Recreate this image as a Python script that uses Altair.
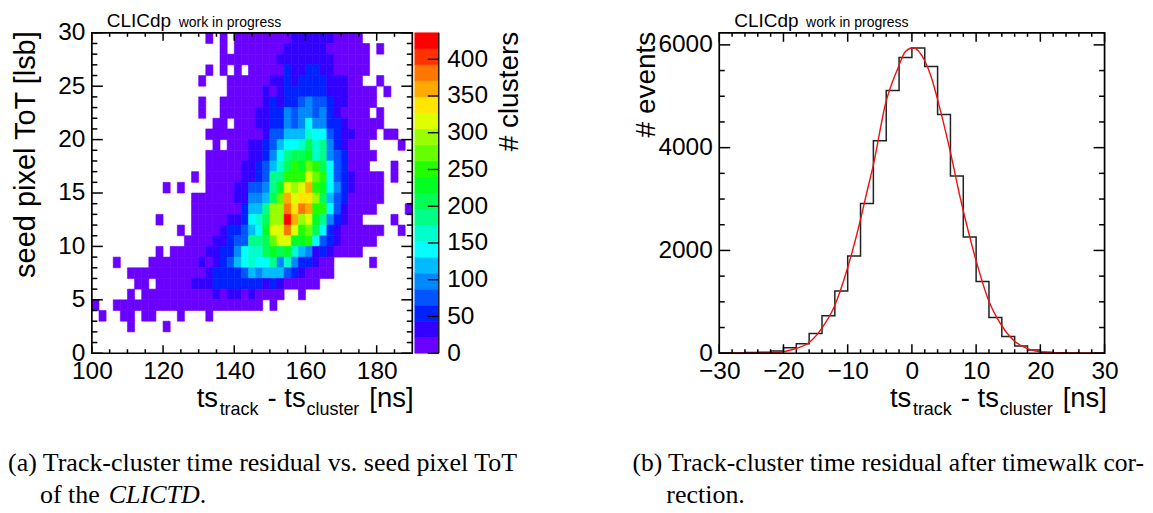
import altair as alt
import pandas as pd

SANS = "Liberation Sans"
SERIF = "Liberation Serif"
PANEL_W_A = 321
PANEL_W_B = 386
PANEL_H = 321
BAR_W = 24

# ---- heat map: occupied spans per row (row = lower edge of the ToT bin, columns are 2 ns bins from 100 ns)
SPANS = {
    29: [(16, 16), (18, 18), (20, 37)],
    28: [(18, 18), (20, 38), (40, 40)],
    27: [(18, 38)],
    26: [(16, 16), (18, 18), (20, 20), (22, 38)],
    25: [(15, 15), (19, 37), (40, 40)],
    24: [(19, 39), (41, 41)],
    23: [(15, 15), (18, 39)],
    22: [(15, 15), (18, 38), (40, 40)],
    21: [(17, 18), (20, 40)],
    20: [(16, 39), (41, 42)],
    19: [(17, 17), (19, 38), (43, 43)],
    18: [(16, 39)],
    17: [(16, 38), (42, 42)],
    16: [(14, 14), (16, 40), (42, 42)],
    15: [(10, 10), (12, 12), (16, 40)],
    14: [(14, 40)],
    13: [(14, 39), (44, 44)],
    12: [(9, 9), (14, 37), (42, 42)],
    11: [(12, 12), (14, 40), (43, 43)],
    10: [(13, 39)],
    9: [(9, 9), (11, 37)],
    8: [(3, 3), (8, 33), (39, 39)],
    7: [(5, 33)],
    6: [(6, 7), (9, 31)],
    5: [(5, 5), (7, 26), (29, 29)],
    4: [(0, 0), (3, 23), (25, 25)],
    3: [(1, 1), (4, 5), (7, 8), (12, 12), (16, 16)],
    2: [(5, 5), (10, 10)],
}
# colour band read for the cells above band 1: row -> (first column, bands)
BANDS = {
    29: (28, [2, 2, 2, 2, 2, 2]),
    28: (27, [2, 2, 2, 2, 2, 2]),
    27: (26, [2, 2, 2, 2, 2, 2, 2, 2]),
    26: (27, [3, 2, 2, 3, 3, 2, 2]),
    25: (25, [2, 2, 3, 2, 3, 3, 3, 3, 2, 2, 2]),
    24: (24, [2, 1, 2, 3, 3, 3, 3, 3, 3, 2, 2, 2]),
    23: (24, [2, 3, 2, 3, 3, 4, 5, 4, 4, 3, 2, 2]),
    22: (23, [2, 2, 3, 3, 5, 4, 5, 5, 4, 5, 3, 2]),
    21: (23, [2, 2, 3, 3, 5, 4, 5, 7, 5, 5, 3, 3, 2]),
    20: (24, [2, 4, 4, 6, 6, 6, 8, 7, 7, 4, 3, 2, 2]),
    19: (22, [2, 2, 3, 4, 6, 7, 7, 8, 10, 8, 9, 5, 3, 2]),
    18: (22, [2, 2, 3, 5, 7, 9, 10, 10, 11, 8, 9, 5, 4, 3]),
    17: (21, [2, 2, 3, 4, 6, 8, 10, 12, 11, 13, 12, 10, 7, 4, 3]),
    16: (21, [2, 2, 3, 4, 9, 9, 12, 12, 12, 15, 13, 12, 7, 4, 3, 2]),
    15: (20, [2, 2, 4, 4, 5, 9, 11, 15, 14, 15, 17, 12, 11, 7, 5, 3, 2]),
    14: (20, [2, 2, 5, 5, 6, 10, 13, 17, 15, 16, 16, 14, 10, 6, 4, 3]),
    13: (21, [3, 6, 6, 9, 14, 14, 18, 16, 18, 17, 12, 12, 7, 4, 2]),
    12: (19, [2, 2, 3, 7, 8, 10, 14, 14, 20, 17, 14, 15, 11, 9, 5, 3, 2]),
    11: (18, [2, 3, 3, 4, 6, 7, 11, 15, 15, 18, 15, 12, 13, 10, 7, 3, 2]),
    10: (17, [2, 2, 3, 4, 4, 9, 9, 10, 13, 15, 15, 11, 11, 12, 7, 4, 3, 2]),
    9: (16, [2, 2, 3, 3, 5, 7, 8, 8, 10, 11, 10, 11, 8, 6, 5, 2, 3, 2]),
    8: (15, [2, 1, 2, 3, 4, 6, 7, 8, 7, 7, 9, 5, 8, 5, 3, 3, 2]),
    7: (16, [2, 3, 3, 3, 3, 4, 6, 5, 6, 6, 6, 4, 3, 2]),
    6: (14, [2, 2, 2, 3, 3, 3, 3, 3, 3, 3, 2, 3, 2]),
    5: (17, [2, 1, 2, 2, 1, 2]),
}
BAND_WIDTH = 21.8
PALETTE = [
    "#6a00ff", "#3300ff", "#0022ff", "#0055ff", "#0088ff", "#00bbff", "#00ffff",
    "#00ffcc", "#00ff88", "#00ff55", "#00ff22", "#22ff00", "#66ff00", "#99ff00",
    "#ddff00", "#ffe600", "#ffaa00", "#ff7700", "#ff3300", "#ff0000",
]

# ---- histogram
HIST_EDGES = list(range(-30, 31, 2))
HIST_COUNTS = [3, 5, 12, 20, 42, 107, 185, 385, 730, 1210, 1890, 2915, 4134, 5113, 5755,
               5937, 5581, 4647, 3447, 2260, 1397, 697, 327, 140, 62, 20, 8, 3, 1, 0]
FIT_X = [-30, -26, -24, -22, -20, -18, -16, -14.1, -12.1, -10.1, -8.2, -7, -6, -4.1, -2.2, -1,
         0.15, 2, 3, 3.95, 5.86, 7.67, 9.9, 11.9, 13.9, 15.9, 17.9, 19.9, 22, 24, 30]
FIT_Y = [0, 1, 2, 8, 29, 93, 210, 475, 905, 1625, 2500, 3142, 3665, 4860, 5540, 5870,
         5945, 5690, 5380, 4958, 3985, 2947, 1845, 1040, 552, 243, 93, 29, 8, 2, 0]

# ---- ticks
A_X_MAJOR = [100, 120, 140, 160, 180]
A_X_MINOR = [v for v in range(105, 190, 5) if v % 20]
A_Y_MAJOR = [0, 5, 10, 15, 20, 25, 30]
A_Y_MINOR = [v for v in range(1, 30) if v % 5]
BAR_MAJOR = [0, 50, 100, 150, 200, 250, 300, 350, 400]
B_X_MAJOR = [-30, -20, -10, 0, 10, 20, 30]
B_X_MINOR = [v for v in range(-28, 30, 2) if v % 10]
B_Y_MAJOR = [0, 2000, 4000, 6000]
B_Y_MINOR = [500, 1000, 1500, 2500, 3000, 3500, 4500, 5000, 5500]

A_X = alt.Scale(domain=[100, 190], nice=False, zero=False)
A_Y = alt.Scale(domain=[0, 30], nice=False, zero=False)
BAR_Y = alt.Scale(domain=[0, 20 * BAND_WIDTH], nice=False, zero=False)
B_X = alt.Scale(domain=[-30, 30], nice=False, zero=False)
B_Y = alt.Scale(domain=[0, 6235], nice=False, zero=False)
COLOR = alt.Scale(type="threshold",
                  domain=[round(BAND_WIDTH * i, 1) for i in range(1, 20)],
                  range=PALETTE)

ONE = alt.Data(values=[{"k": 0}])


def label(text, x, y, size, font=SANS, angle=0, style="normal", align="left", color="black"):
    return alt.Chart(ONE).mark_text(
        font=font, fontSize=size, angle=angle, fontStyle=style, align=align,
        baseline="alphabetic", color=color,
    ).encode(x=alt.value(x), y=alt.value(y), text=alt.value(text))


def axis(values, orient, pad):
    return alt.Axis(values=values, orient=orient, ticks=False, domain=False, grid=False, title=None,
                    labelFont=SANS, labelFontSize=24.5, labelColor="black", labelPadding=pad,
                    format="d", labelOverlap=False, labelFlush=False)


def vticks(values, scale, ax, w, length, right=False, width=1.5):
    start, end = (w, w - length) if right else (0, length)
    return alt.Chart(pd.DataFrame({"v": values})).mark_rule(color="black", strokeWidth=width).encode(
        y=alt.Y("v:Q", scale=scale, axis=ax), x=alt.value(start), x2=alt.value(end))


def hticks(values, scale, ax, h, length, top=False):
    start, end = (0, length) if top else (h, h - length)
    return alt.Chart(pd.DataFrame({"v": values})).mark_rule(color="black", strokeWidth=1.5).encode(
        x=alt.X("v:Q", scale=scale, axis=ax), y=alt.value(start), y2=alt.value(end))


def frame(w, h):
    return alt.Chart(ONE).mark_rect(filled=False, stroke="black", strokeWidth=1.7).encode(
        x=alt.value(0), x2=alt.value(w), y=alt.value(0), y2=alt.value(h))


def ts_title(x0, y0):
    return [
        label("ts", x0, y0, 27.5),
        label("track", x0 + 23, y0 + 8, 18),
        label("- ts", x0 + 71, y0, 27.5),
        label("cluster", x0 + 110, y0 + 8, 18),
        label("[ns]", x0 + 173, y0, 27.5),
    ]


def clic(x0):
    return [label("CLICdp", x0, -6, 19), label("work in progress", x0 + 72, -6, 14)]


A_X_AXIS = axis(A_X_MAJOR, "bottom", 6)
A_Y_AXIS = axis(A_Y_MAJOR, "left", 7)
BAR_AXIS = axis(BAR_MAJOR, "right", 8)
B_X_AXIS = axis(B_X_MAJOR, "bottom", 6)
B_Y_AXIS = axis(B_Y_MAJOR, "left", 7)

# ---- panel (a)
rows = []
for row, spans in SPANS.items():
    first, bands = BANDS.get(row, (0, []))
    for lo, hi in spans:
        for col in range(lo, hi + 1):
            band = bands[col - first] if first <= col < first + len(bands) else 1
            rows.append({"t": 100 + 2 * col, "t2": 102 + 2 * col, "tot": row, "tot2": row + 1,
                         "count": (band - 0.5) * BAND_WIDTH})
heat = alt.Chart(pd.DataFrame(rows)).mark_rect(strokeWidth=0.6).encode(
    x=alt.X("t:Q", scale=A_X, axis=A_X_AXIS),
    x2="t2:Q",
    y=alt.Y("tot:Q", scale=A_Y, axis=A_Y_AXIS),
    y2="tot2:Q",
    color=alt.Color("count:Q", scale=COLOR, legend=None),
    stroke=alt.Stroke("count:Q", scale=COLOR, legend=None),
)
panel_a = alt.layer(
    heat,
    vticks(A_Y_MINOR, A_Y, A_Y_AXIS, PANEL_W_A, 5.5), vticks(A_Y_MAJOR, A_Y, A_Y_AXIS, PANEL_W_A, 11),
    vticks(A_Y_MINOR, A_Y, A_Y_AXIS, PANEL_W_A, 5.5, right=True), vticks(A_Y_MAJOR, A_Y, A_Y_AXIS, PANEL_W_A, 11, right=True),
    hticks(A_X_MINOR, A_X, A_X_AXIS, PANEL_H, 4), hticks(A_X_MAJOR, A_X, A_X_AXIS, PANEL_H, 8),
    hticks(A_X_MINOR, A_X, A_X_AXIS, PANEL_H, 4, top=True), hticks(A_X_MAJOR, A_X, A_X_AXIS, PANEL_H, 8, top=True),
    frame(PANEL_W_A, PANEL_H),
    label("seed pixel ToT [lsb]", -57, 122, 29, angle=270, align="center"),
    *ts_title(105, 375),
    *clic(15),
    label("(a) Track-cluster time residual vs. seed pixel ToT", -84, 439, 26, font=SERIF),
    label("of the", -52, 471, 26, font=SERIF),
    label("CLICTD", 17, 471, 26, font=SERIF, style="italic"),
    label(".", 108, 471, 26, font=SERIF),
).properties(width=PANEL_W_A, height=PANEL_H)

# ---- colour bar
bar_df = pd.DataFrame({
    "lo": [BAND_WIDTH * i for i in range(20)],
    "hi": [BAND_WIDTH * (i + 1) for i in range(20)],
    "count": [BAND_WIDTH * (i + 0.5) for i in range(20)],
})
bar = alt.Chart(bar_df).mark_rect(strokeWidth=0.6).encode(
    y=alt.Y("lo:Q", scale=BAR_Y, axis=BAR_AXIS),
    y2="hi:Q",
    x=alt.value(0), x2=alt.value(BAR_W),
    color=alt.Color("count:Q", scale=COLOR, legend=None),
    stroke=alt.Stroke("count:Q", scale=COLOR, legend=None),
)
bar_edge = alt.Chart(ONE).mark_rule(color="#222222", strokeWidth=1.5).encode(
    x=alt.value(BAR_W), y=alt.value(0), y2=alt.value(PANEL_H))
panel_bar = alt.layer(
    bar, bar_edge, vticks(BAR_MAJOR, BAR_Y, BAR_AXIS, BAR_W, 11, right=True, width=1.3),
    label("# clusters", 103, -1, 28, angle=270, align="right"),
).properties(width=BAR_W, height=PANEL_H)

# ---- panel (b)
step_df = pd.DataFrame({"x": HIST_EDGES, "y": HIST_COUNTS + [HIST_COUNTS[-1]]})
fit_df = pd.DataFrame({"x": FIT_X, "y": FIT_Y})
hist = alt.Chart(step_df).mark_line(interpolate="step-after", color="#222222", strokeWidth=1.5).encode(
    x=alt.X("x:Q", scale=B_X, axis=B_X_AXIS),
    y=alt.Y("y:Q", scale=B_Y, axis=B_Y_AXIS),
)
fit = alt.Chart(fit_df).mark_line(interpolate="monotone", color="#ee1111", strokeWidth=1.4).encode(
    x=alt.X("x:Q", scale=B_X, axis=B_X_AXIS), y=alt.Y("y:Q", scale=B_Y, axis=B_Y_AXIS),
)
panel_b = alt.layer(
    hist, fit,
    vticks(B_Y_MINOR, B_Y, B_Y_AXIS, PANEL_W_B, 5.5), vticks(B_Y_MAJOR, B_Y, B_Y_AXIS, PANEL_W_B, 11),
    vticks(B_Y_MINOR, B_Y, B_Y_AXIS, PANEL_W_B, 5.5, right=True), vticks(B_Y_MAJOR, B_Y, B_Y_AXIS, PANEL_W_B, 11, right=True),
    hticks(B_X_MINOR, B_X, B_X_AXIS, PANEL_H, 4), hticks(B_X_MAJOR, B_X, B_X_AXIS, PANEL_H, 9),
    hticks(B_X_MINOR, B_X, B_X_AXIS, PANEL_H, 4, top=True), hticks(B_X_MAJOR, B_X, B_X_AXIS, PANEL_H, 9, top=True),
    frame(PANEL_W_B, PANEL_H),
    label("# events", -64, -1, 28, angle=270, align="right"),
    *ts_title(171, 375),
    *clic(15),
    label("(b) Track-cluster time residual after timewalk cor-", -87, 439, 25.6, font=SERIF),
    label("rection.", -53, 471, 26, font=SERIF),
).properties(width=PANEL_W_B, height=PANEL_H)

gap = alt.Chart(ONE).mark_text(text=" ", opacity=0).encode(x=alt.value(0)).properties(width=276, height=PANEL_H)

chart = alt.hconcat(panel_a, panel_bar, gap, panel_b, spacing=2.5, bounds="flush").properties(
    padding={"left": 0, "right": 0, "bottom": 0, "top": 3.4}
).configure_view(stroke=None)

chart.save("out.html", embed_options={"renderer": "svg", "actions": False})
